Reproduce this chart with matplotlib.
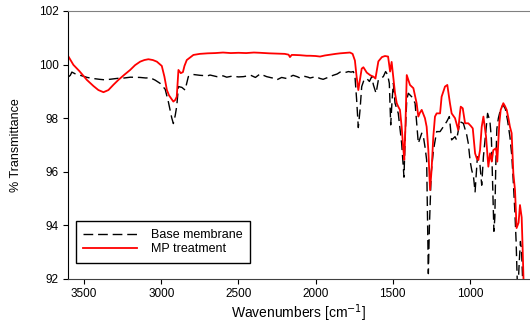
import matplotlib
matplotlib.use('Agg')
import matplotlib.pyplot as plt

plt.rcParams['font.family'] = ['Liberation Sans', 'DejaVu Sans']

# Base membrane (black dashed)
base_wn = [3600, 3590, 3580, 3560, 3526, 3480, 3440, 3400, 3364, 3320, 3278, 3240,
           3200, 3137, 3100, 3073, 3040, 3008, 2975, 2954, 2932, 2922, 2910, 2900,
           2889, 2867, 2846, 2825, 2792, 2750, 2700, 2684, 2640, 2600, 2576, 2540,
           2500, 2468, 2420, 2390, 2360, 2317, 2280, 2252, 2220, 2187, 2146, 2120,
           2101, 2070, 2049, 2036, 2000, 1970, 1951, 1920, 1886, 1860, 1841, 1810,
           1787, 1770, 1755, 1744, 1734, 1723, 1712, 1701, 1686, 1668, 1651, 1636,
           1625, 1608, 1593, 1578, 1561, 1546, 1533, 1522, 1513, 1504, 1496, 1485,
           1464, 1442, 1427, 1418, 1409, 1399, 1377, 1355, 1334, 1312, 1301, 1290,
           1280, 1274, 1269, 1262, 1250, 1236, 1215, 1193, 1172, 1150, 1133, 1118,
           1096, 1086, 1064, 1042, 1020, 1010, 998, 988, 976, 966, 951, 935,
           923, 912, 895, 885, 870, 860, 852, 844, 838, 832, 825, 815,
           800, 785, 770, 755, 740, 728, 718, 708, 700, 693, 688, 680,
           672, 665, 658, 650]
base_t = [99.55, 99.6, 99.72, 99.66, 99.6, 99.52, 99.48, 99.45, 99.43, 99.46, 99.49, 99.5,
          99.53, 99.52, 99.5, 99.51, 99.42, 99.3, 99.08, 98.6, 98.0, 97.8, 98.1, 98.45,
          99.18, 99.15, 99.05, 99.55, 99.63, 99.6, 99.58, 99.61, 99.55, 99.58, 99.53, 99.57,
          99.54, 99.55, 99.6, 99.52, 99.65, 99.55, 99.5, 99.43, 99.52, 99.48, 99.6, 99.55,
          99.5, 99.56, 99.53, 99.5, 99.55, 99.48, 99.45, 99.52, 99.6, 99.65, 99.72, 99.7,
          99.74, 99.72, 99.74, 99.5, 98.7, 97.65, 98.3, 99.18, 99.43, 99.48, 99.37, 99.55,
          99.24, 98.93, 99.43, 99.49, 99.55, 99.74, 99.62, 99.3, 97.75, 98.68, 99.3, 98.56,
          98.18, 97.06, 95.8, 97.5, 98.68, 98.93, 98.8, 98.56, 97.06, 97.44, 97.31, 96.9,
          96.44, 94.0, 92.2, 94.0, 96.0, 96.8, 97.5, 97.5, 97.68, 97.87, 98.06, 97.19,
          97.31, 97.19, 97.87, 97.81, 97.37, 97.06, 96.4, 96.07, 95.8, 95.25, 96.56, 96.3,
          95.5, 96.56, 97.56, 98.18, 97.9, 97.2, 95.5, 93.78, 94.3, 96.2, 97.6, 98.0,
          98.35, 98.5, 98.35, 97.9, 97.3, 96.6, 95.6, 94.5, 93.4, 92.0, 91.6, 92.6,
          93.4, 93.1, 92.0, 91.4]

# MP treatment (red solid)
mp_wn = [3600, 3570, 3530, 3483, 3440, 3408, 3375, 3343, 3310, 3278, 3240, 3202,
         3170, 3137, 3110, 3084, 3055, 3029, 2997, 2980, 2964, 2950, 2937, 2922,
         2910, 2900, 2889, 2874, 2860, 2850, 2835, 2792, 2750, 2700, 2650, 2600,
         2550, 2500, 2450, 2400, 2360, 2300, 2250, 2200, 2175, 2166, 2155, 2140,
         2100, 2058, 2036, 2000, 1971, 1940, 1906, 1870, 1841, 1800, 1777, 1760,
         1745, 1735, 1723, 1712, 1701, 1690, 1668, 1645, 1625, 1612, 1600, 1593,
         1570, 1550, 1530, 1517, 1507, 1496, 1485, 1474, 1464, 1453, 1442, 1432,
         1425, 1418, 1409, 1388, 1366, 1345, 1334, 1324, 1312, 1291, 1280, 1269,
         1258, 1248, 1237, 1226, 1215, 1193, 1183, 1161, 1146, 1129, 1118, 1096,
         1075, 1064, 1059, 1046, 1031, 1010, 992, 981, 966, 955, 945, 934,
         923, 912, 895, 880, 869, 858, 848, 830, 822, 809, 800, 783,
         772, 761, 750, 740, 729, 718, 707, 697, 684, 675, 664, 658,
         652, 645]
mp_t = [100.28, 99.99, 99.75, 99.43, 99.2, 99.05, 98.97, 99.05, 99.25, 99.43, 99.62, 99.8,
        99.98, 100.11, 100.17, 100.2, 100.17, 100.11, 99.95, 99.55, 99.05, 98.85, 98.74, 98.62,
        98.68, 98.8, 99.8, 99.68, 99.72, 99.95, 100.17, 100.36, 100.4, 100.42, 100.43, 100.45,
        100.43, 100.44, 100.43, 100.45, 100.44, 100.42, 100.41, 100.4, 100.37, 100.28, 100.36, 100.36,
        100.35, 100.33, 100.33, 100.32, 100.3, 100.34, 100.37, 100.4, 100.42, 100.44, 100.45, 100.4,
        100.15, 99.6, 99.05, 99.45, 99.85, 99.9, 99.7, 99.6, 99.55, 99.48, 99.9, 100.12,
        100.28, 100.32, 100.3, 99.74, 100.1, 99.5, 98.93, 98.56, 98.43, 98.31, 97.68, 96.9,
        96.45, 97.6, 99.61, 99.24, 99.12, 98.56, 98.06, 98.2, 98.31, 98.0, 97.68, 96.81,
        95.32, 96.07, 97.3, 98.06, 98.18, 98.18, 98.8, 99.18, 99.24, 98.56, 98.18, 98.0,
        97.56, 98.2, 98.43, 98.37, 97.81, 97.81, 97.7, 97.62, 96.69, 96.5, 96.44, 96.81,
        97.68, 98.06, 97.31, 96.19, 96.69, 96.38, 96.81, 96.88, 96.38, 97.81, 98.31, 98.56,
        98.45, 98.31, 98.0, 97.68, 97.44, 95.94, 95.3, 93.9, 94.1, 94.76, 94.3, 93.2,
        91.96, 91.5]

fig = plt.figure(figsize=(5.3, 3.27), dpi=100)
ax = fig.add_axes([0.1283, 0.1468, 0.8717, 0.8196])

ax.plot(base_wn, base_t, color='black', linewidth=1.0, linestyle=(0, (7, 3.5)),
        label='Base membrane')
ax.plot(mp_wn, mp_t, color='#ff0000', linewidth=1.3, label='MP treatment')

ax.set_xlim(3605, 610)
ax.set_ylim(92, 102)
ax.set_xticks([3500, 3000, 2500, 2000, 1500, 1000])
ax.set_yticks([92, 94, 96, 98, 100, 102])
ax.tick_params(direction='out', length=3.5, width=0.8, labelsize=8.5, pad=3)

ax.spines['right'].set_visible(False)
ax.spines['top'].set_color('#808080')
ax.spines['bottom'].set_color('#404040')
ax.spines['left'].set_color('black')

ax.set_xlabel('Wavenumbers [cm$^{-1}$]', fontsize=10, labelpad=2)
ax.set_ylabel('% Transmittance', fontsize=9, labelpad=12)

leg = ax.legend(loc='lower left', bbox_to_anchor=(0.017, 0.06), borderaxespad=0,
                fontsize=9, handlelength=4.3, handletextpad=1.1, borderpad=0.6,
                labelspacing=0.2, fancybox=False, framealpha=1)
leg.get_frame().set_edgecolor('black')
leg.get_frame().set_linewidth(1.0)

plt.savefig('out.png', dpi=100)
